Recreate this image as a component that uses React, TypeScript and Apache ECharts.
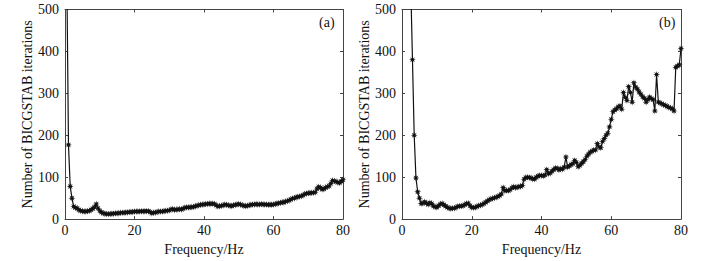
import React, { useEffect, useRef } from "react";
import * as echarts from "echarts";

// Sampling grid: 0.5 Hz steps from 0.5 to 80 Hz
const FREQ_STEP = 0.5;
const FREQ: number[] = Array.from({ length: 160 }, (_, i) => (i + 1) * FREQ_STEP);

const X_TICKS = [0, 20, 40, 60, 80];
const Y_TICKS = [0, 100, 200, 300, 400, 500];

// Panel (a): iterations vs frequency
const ITER_A: number[] = [
  600, 177, 78, 50, 30, 27, 26, 22, 20, 19,
  18, 18, 19, 20, 22, 25, 29, 36, 26, 20,
  16, 14, 13, 12, 12, 12, 13, 13, 14, 14,
  14, 15, 15, 15, 16, 16, 17, 17, 17, 18,
  18, 18, 18, 19, 18, 19, 19, 19, 17, 14,
  15, 16, 17, 18, 18, 18, 19, 20, 20, 21,
  23, 24, 22, 23, 23, 24, 23, 25, 27, 28,
  28, 28, 29, 29, 31, 32, 33, 34, 35, 35,
  36, 36, 37, 36, 37, 36, 33, 30, 31, 32,
  33, 35, 34, 33, 32, 31, 33, 34, 35, 36,
  35, 33, 32, 31, 32, 33, 34, 35, 35, 36,
  35, 35, 36, 35, 35, 35, 34, 35, 34, 35,
  36, 37, 38, 39, 40, 40, 42, 43, 45, 47,
  49, 50, 52, 53, 54, 55, 57, 60, 61, 62,
  62, 63, 63, 64, 72, 77, 75, 71, 72, 75,
  77, 79, 85, 92, 91, 89, 88, 86, 90, 94,
];

// Panel (b): iterations vs frequency
const ITER_B: number[] = [
  1000, 950, 900, 800, 560, 380, 200, 98, 65, 50,
  37, 38, 41, 38, 35, 39, 37, 31, 29, 28,
  32, 36, 37, 34, 31, 28, 26, 25, 26, 26,
  28, 30, 31, 31, 32, 34, 37, 38, 32, 28,
  27, 28, 30, 32, 33, 35, 37, 40, 43, 46,
  48, 49, 51, 52, 54, 56, 60, 75, 68, 68,
  68, 70, 74, 77, 75, 76, 77, 78, 80, 95,
  99, 100, 99, 98, 96, 95, 100, 103, 104, 104,
  103, 105, 118, 108, 110, 114, 118, 122, 121, 117,
  120, 119, 124, 148, 124, 127, 130, 132, 140, 135,
  125, 128, 133, 137, 142, 150, 155, 160, 162, 165,
  165, 180, 172, 170, 185, 192, 200, 205, 220, 238,
  256, 260, 263, 268, 270, 262, 302, 290, 283, 316,
  302, 279, 325, 315, 310, 303, 298, 292, 288, 279,
  285, 291, 287, 285, 258, 345, 279, 277, 275, 273,
  271, 269, 267, 265, 263, 258, 362, 365, 368, 407,
];

const PANEL_LABELS = ["(a)", "(b)"];
const X_NAME = "Frequency/Hz";
const Y_NAME = "Number of BICGSTAB iterations";

function starPath(): string {
  const cx = 10, cy = 10, R = 10, r = 4;
  const pts: string[] = [];
  for (let k = 0; k < 16; k++) {
    const ang = (Math.PI / 8) * k;
    const rad = k % 2 === 0 ? R : r;
    pts.push(`${(cx + rad * Math.cos(ang)).toFixed(2)} ${(cy + rad * Math.sin(ang)).toFixed(2)}`);
  }
  return "path://M" + pts.join(" L") + " Z";
}

export default function App() {
  const ref = useRef<HTMLDivElement>(null);
  useEffect(() => {
    if (!ref.current) return;
    const chart = echarts.init(ref.current, null, { renderer: "svg" });
    const font = "Liberation Serif";
    const axisColor = "#444";
    const textColor = "#111";
    const grids = [
      { left: 65, top: 9.5, width: 278, height: 215.5 },
      { left: 402, top: 9.5, width: 279, height: 215.5 },
    ];
    const xMin = X_TICKS[0], xMax = X_TICKS[X_TICKS.length - 1];
    const xInt = X_TICKS[1] - X_TICKS[0];
    const yMin = Y_TICKS[0], yMax = Y_TICKS[Y_TICKS.length - 1];
    const yInt = Y_TICKS[1] - Y_TICKS[0];

    const xAxes: any[] = [];
    const yAxes: any[] = [];
    grids.forEach((_, gi) => {
      const common = {
        gridIndex: gi,
        type: "value",
        axisLine: { show: true, onZero: false, lineStyle: { color: axisColor, width: 1 } },
        axisTick: { show: true, inside: true, length: 3, lineStyle: { color: axisColor } },
        splitLine: { show: false },
      };
      xAxes.push({
        ...common,
        position: "bottom",
        min: xMin, max: xMax, interval: xInt,
        axisLabel: { show: true, color: textColor, fontFamily: font, fontSize: 14, margin: 4 },
        name: X_NAME, nameLocation: "middle", nameGap: 17,
        nameTextStyle: { color: textColor, fontFamily: font, fontSize: 14 },
      });
      xAxes.push({
        ...common,
        position: "top",
        min: xMin, max: xMax, interval: xInt,
        axisLabel: { show: false },
      });
      yAxes.push({
        ...common,
        position: "left",
        min: yMin, max: yMax, interval: yInt,
        axisLabel: { show: true, color: textColor, fontFamily: font, fontSize: 14, margin: 6 },
        name: Y_NAME, nameLocation: "middle", nameGap: 26, nameRotate: 90,
        nameTextStyle: { color: textColor, fontFamily: font, fontSize: 14 },
      });
      yAxes.push({
        ...common,
        position: "right",
        min: yMin, max: yMax, interval: yInt,
        axisLabel: { show: false },
      });
    });

    const sym = starPath();
    const mk = (vals: number[], gi: number) => ({
      type: "line",
      xAxisIndex: gi * 2,
      yAxisIndex: gi * 2,
      data: FREQ.map((f, i) => [f, vals[i]]),
      clip: true,
      symbol: sym,
      symbolSize: 7,
      showAllSymbol: true,
      lineStyle: { color: "#111", width: 1.2 },
      itemStyle: { color: "#111", borderWidth: 0 },
    });

    chart.setOption({
      animation: false,
      backgroundColor: "#fff",
      grid: grids,
      xAxis: xAxes,
      yAxis: yAxes,
      series: [mk(ITER_A, 0), mk(ITER_B, 1)],
      graphic: [
        {
          type: "text", left: 319, top: 15,
          style: { text: PANEL_LABELS[0], fill: textColor, fontFamily: font, fontSize: 14 },
        },
        {
          type: "text", left: 659, top: 15,
          style: { text: PANEL_LABELS[1], fill: textColor, fontFamily: font, fontSize: 14 },
        },
      ],
    });
    return () => chart.dispose();
  }, []);
  return (
    <div
      ref={ref}
      style={{ position: "fixed", left: 0, top: 0, width: 713, height: 261, background: "#fff" }}
    />
  );
}
